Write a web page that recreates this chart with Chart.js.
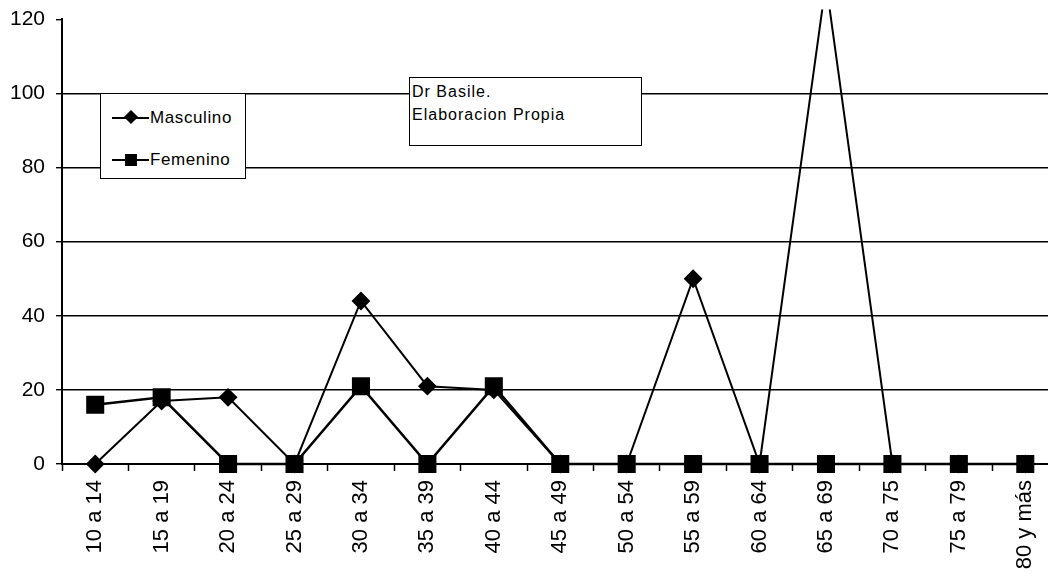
<!DOCTYPE html>
<html>
<head>
<meta charset="utf-8">
<script src="https://cdn.jsdelivr.net/npm/chart.js@4"></script>
<style>
    html, body { margin: 0; padding: 0; background: #fff; overflow: hidden; }
    #wrap { position: relative; width: 1048px; height: 578px; overflow: hidden; }
    #chart { position: absolute; left: 0; top: 0; }
    .box {
        position: absolute;
        background: #fff;
        border: 1.5px solid #000;
        font-family: "Liberation Sans", Arial, sans-serif;
        color: #000;
    }
    #legend { left: 100px; top: 93px; width: 144px; height: 84px; font-size: 17px; letter-spacing: 0.6px; }
    .row { position: absolute; left: 11px; height: 20px; }
    .row .line { position: absolute; left: 0; top: 9px; width: 37px; height: 2px; background: #000; }
    .row .mk { position: absolute; background: #000; }
    .row .lbl { position: absolute; left: 38px; top: 0; line-height: 20px; white-space: nowrap; }
    #note { left: 409px; top: 77px; width: 233px; height: 69px; font-size: 16px; letter-spacing: 1px; line-height: 23px; padding: 2px 2px; box-sizing: border-box; }
</style>
</head>
<body>
<div id="wrap">
    <canvas id="chart" width="1072" height="578"></canvas>
    <div id="legend" class="box">
        <div class="row" style="top:14px">
            <div class="line"></div>
            <div class="mk" style="left:14px; top:4px; width:10px; height:10px; transform:rotate(45deg)"></div>
            <div class="lbl">Masculino</div>
        </div>
        <div class="row" style="top:56px">
            <div class="line"></div>
            <div class="mk" style="left:13px; top:4px; width:12px; height:12px"></div>
            <div class="lbl">Femenino</div>
        </div>
    </div>
    <div id="note" class="box">Dr Basile.<br>Elaboracion Propia</div>
</div>
<script>
// datos
const categorias = ['10 a 14', '15 a 19', '20 a 24', '25 a 29', '30 a 34', '35 a 39', '40 a 44',
    '45 a 49', '50 a 54', '55 a 59', '60 a 64', '65 a 69', '70 a 75', '75 a 79', '80 y más'];
const masculino = [0, 17, 18, 0, 44, 21, 20, 0, 0, 50, 0, 130, 0, 0, 0];
const femenino = [16, 18, 0, 0, 21, 0, 21, 0, 0, 0, 0, 0, 0, 0, 0];
const yMin = 0;
const yMax = 120;
const yPaso = 20;

const ctx = document.getElementById('chart');
new Chart(ctx, {
    type: 'line',
    data: {
        labels: categorias,
        datasets: [{
            label: 'Masculino',
            data: masculino,
            borderColor: '#000',
            borderWidth: 2,
            pointStyle: 'rectRot',
            pointRadius: 8,
            pointBackgroundColor: '#000',
            pointBorderColor: '#000',
            tension: 0,
            clip: { left: 10, top: 10, right: 10, bottom: 10 }
        }, {
            label: 'Femenino',
            data: femenino,
            borderColor: '#000',
            borderWidth: 2.5,
            pointStyle: 'rect',
            pointRadius: 11,
            pointBackgroundColor: '#000',
            pointBorderColor: '#000',
            tension: 0,
            clip: { left: 10, top: 10, right: 10, bottom: 10 }
        }]
    },
    options: {
        responsive: false,
        animation: false,
        layout: { padding: { left: 0, top: 19, right: 3, bottom: 0 } },
        plugins: {
            legend: { display: false },
            tooltip: { enabled: false }
        },
        scales: {
            x: {
                offset: true,
                grid: {
                    offset: true,
                    drawOnChartArea: false,
                    drawTicks: true,
                    tickLength: 7,
                    tickColor: '#000',
                    tickWidth: 1.5
                },
                border: { display: true, color: '#000', width: 2 },
                ticks: {
                    minRotation: 90,
                    maxRotation: 90,
                    color: '#000',
                    padding: 9,
                    font: { family: 'Liberation Sans', size: 22 }
                },
                afterFit: (scale) => { scale.height = 114; }
            },
            y: {
                min: yMin,
                max: yMax,
                ticks: {
                    stepSize: yPaso,
                    color: '#000',
                    padding: 11,
                    font: { family: 'Liberation Sans', size: 21, lineHeight: 0.8 }
                },
                grid: {
                    color: (c) => (c.tick && c.tick.value === yMax) ? 'rgba(0,0,0,0)' : '#000',
                    lineWidth: 1.4,
                    drawTicks: true,
                    tickLength: 6,
                    tickColor: '#000'
                },
                border: { display: true, color: '#000', width: 2 },
                afterFit: (scale) => { scale.width = 62; }
            }
        }
    }
});
</script>
</body>
</html>
